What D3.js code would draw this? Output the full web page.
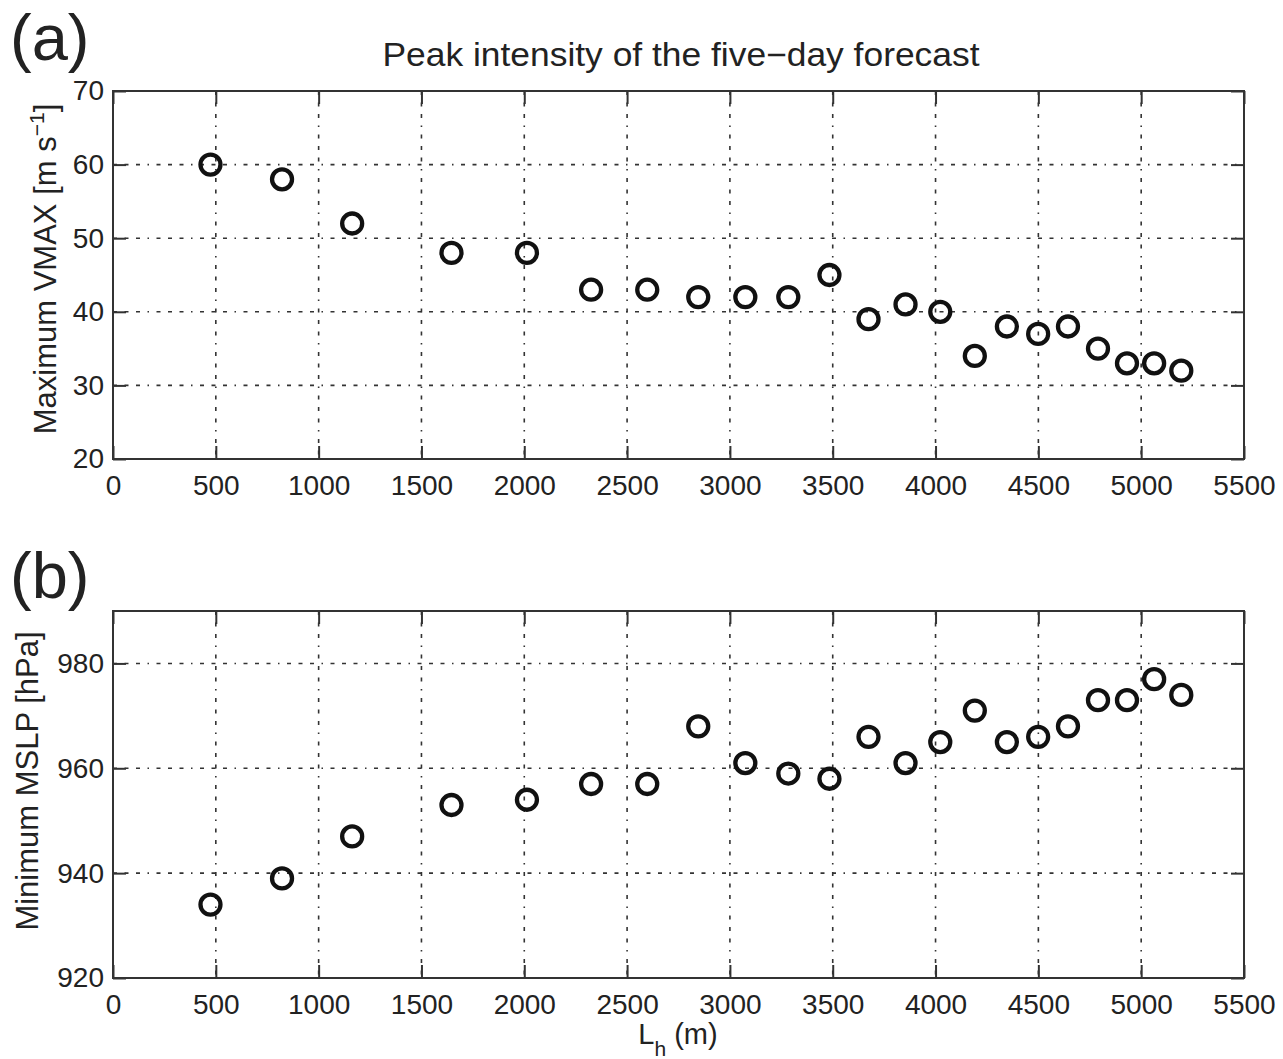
<!DOCTYPE html>
<html>
<head>
<meta charset="utf-8">
<script src="https://cdn.jsdelivr.net/npm/d3@7"></script>
<style>
  body { margin: 0; background: #fff; }
  svg text { font-family: "Liberation Sans", Arial, Helvetica, sans-serif; fill: #222; }
</style>
</head>
<body>
<svg id="chart" width="1283" height="1059"></svg>
<script>
// Horizontal diffusion length L_h (m) for each experiment
const lh = [474, 822, 1163, 1646, 2013, 2325, 2598, 2846, 3075, 3284, 3484,
            3674, 3854, 4023, 4191, 4347, 4499, 4644, 4790, 4931, 5063, 5195];
// Peak VMAX of the five-day forecast (m/s)
const vmax = [60, 58, 52, 48, 48, 43, 43, 42, 42, 42, 45,
              39, 41, 40, 34, 38, 37, 38, 35, 33, 33, 32];
// Minimum MSLP (hPa)
const mslp = [934, 939, 947, 953, 954, 957, 957, 968, 961, 959, 958,
              966, 961, 965, 971, 965, 966, 968, 973, 973, 977, 974];

const xTicks = d3.range(0, 5501, 500);
const vmaxTicks = [20, 30, 40, 50, 60, 70];
const mslpTicks = [920, 940, 960, 980];

const svg = d3.select("#chart");
const left = 113, right = 1244;
const x = d3.scaleLinear().domain([0, 5500]).range([left, right]);

function panel(opts) {
  const { top, bottom, domain, yTicks, values, letter, ylabel } = opts;
  const y = d3.scaleLinear().domain(domain).range([bottom, top]);
  const g = svg.append("g");

  // dotted grid (matlab style)
  const dash = "4,7.5,4,7.5,4,7.5,1.5,7.5";
  g.append("g").selectAll("line")
    .data(xTicks.filter(t => t > 0 && t < 5500))
    .join("line")
    .attr("x1", d => x(d)).attr("x2", d => x(d))
    .attr("y1", top).attr("y2", bottom)
    .attr("stroke", "#333").attr("stroke-width", 1.6)
    .attr("stroke-dasharray", dash);
  g.append("g").selectAll("line")
    .data(yTicks.filter(t => t > domain[0] && t < domain[1]))
    .join("line")
    .attr("x1", left).attr("x2", right)
    .attr("y1", d => y(d)).attr("y2", d => y(d))
    .attr("stroke", "#333").attr("stroke-width", 1.6)
    .attr("stroke-dasharray", dash);

  // axes with inward ticks on all four sides
  const styleAxis = sel => {
    sel.select(".domain").remove();
    sel.selectAll(".tick line").attr("stroke", "#333").attr("stroke-width", 2);
    sel.selectAll("text").attr("font-size", 28).attr("fill", "#222");
  };
  g.append("g").attr("transform", `translate(0,${bottom})`)
    .call(d3.axisBottom(x).tickValues(xTicks).tickSizeInner(-13).tickPadding(16).tickFormat(d3.format("d")))
    .call(styleAxis);
  g.append("g").attr("transform", `translate(0,${top})`)
    .call(d3.axisTop(x).tickValues(xTicks).tickSizeInner(-13).tickFormat(""))
    .call(styleAxis);
  g.append("g").attr("transform", `translate(${left},0)`)
    .call(d3.axisLeft(y).tickValues(yTicks).tickSizeInner(-13).tickPadding(9).tickFormat(d3.format("d")))
    .call(styleAxis);
  g.append("g").attr("transform", `translate(${right},0)`)
    .call(d3.axisRight(y).tickValues(yTicks).tickSizeInner(-13).tickFormat(""))
    .call(styleAxis);

  g.append("rect")
    .attr("x", left).attr("y", top)
    .attr("width", right - left).attr("height", bottom - top)
    .attr("fill", "none").attr("stroke", "#333").attr("stroke-width", 2);

  // markers
  g.append("g").selectAll("circle")
    .data(lh.map((d, i) => [d, values[i]]))
    .join("circle")
    .attr("cx", d => x(d[0])).attr("cy", d => y(d[1]))
    .attr("r", 10)
    .attr("fill", "none").attr("stroke", "#111").attr("stroke-width", 4.3);

  // panel letter
  svg.append("text").attr("x", 10).attr("y", opts.letterY)
    .attr("font-size", 65).text(letter);

  // y label
  const yl = svg.append("text")
    .attr("transform", `translate(${opts.ylabelX},${opts.ylabelY}) rotate(-90)`)
    .attr("text-anchor", "middle").attr("font-size", 31);
  ylabel(yl);
  return y;
}

panel({
  top: 91, bottom: 459, domain: [20, 70], yTicks: vmaxTicks, values: vmax,
  letter: "(a)", letterY: 60, ylabelX: 56, ylabelY: 269,
  ylabel: t => {
    t.append("tspan").text("Maximum VMAX [m s");
    t.append("tspan").attr("font-size", 21).attr("dy", -12).text("\u22121");
    t.append("tspan").attr("dy", 12).text("]");
  }
});

panel({
  top: 611, bottom: 978, domain: [920, 990], yTicks: mslpTicks, values: mslp,
  letter: "(b)", letterY: 598, ylabelX: 38, ylabelY: 781,
  ylabel: t => t.text("Minimum MSLP [hPa]")
});

// title
svg.append("text").attr("x", 681).attr("y", 66)
  .attr("text-anchor", "middle").attr("font-size", 33)
  .attr("textLength", 597).attr("lengthAdjust", "spacingAndGlyphs")
  .text("Peak intensity of the five\u2212day forecast");

// x label
const xl = svg.append("text").attr("x", 678).attr("y", 1044)
  .attr("text-anchor", "middle").attr("font-size", 29);
xl.append("tspan").text("L");
xl.append("tspan").attr("font-size", 21).attr("dy", 12).text("h");
xl.append("tspan").attr("dy", -12).text(" (m)");
</script>
</body>
</html>
